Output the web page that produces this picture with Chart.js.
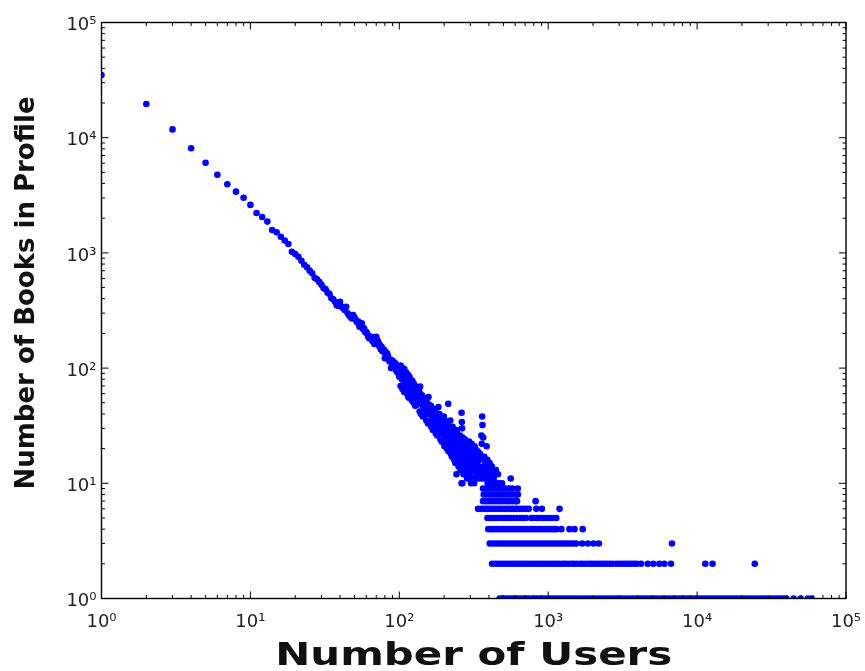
<!DOCTYPE html>
<html>
<head>
<meta charset="utf-8">
<script src="https://cdn.jsdelivr.net/npm/chart.js@4"></script>
<style>
  html, body { margin: 0; padding: 0; background: #fff; }
</style>
</head>
<body>
<canvas id="books_chart" width="865" height="671"></canvas>
<script>
const xTitle = 'Number of Users';
const yTitle = 'Number of Books in Profile';
const tickLabels = ['10\u2070', '10\u00b9', '10\u00b2', '10\u00b3', '10\u2074', '10\u2075'];

// main curve, one point per user count
const usersMain = [
  1, 2, 3, 4, 5, 6, 7, 8, 9, 10,
  11, 12, 13, 14, 15, 16, 17, 18, 19, 20,
  21, 22, 23, 24, 25, 26, 27, 28, 29, 30,
  31, 32, 33, 34, 35, 36, 37, 38, 39, 40,
  41, 42, 43, 44, 45, 46, 47, 48, 49, 50,
  51, 52, 53, 54, 55, 56, 57, 58, 59, 60,
  61, 62, 63, 64, 65, 66, 67, 68, 69, 70,
  71, 72, 73, 74, 75, 76, 77, 78, 79, 80,
  81, 82, 83, 84, 85, 86, 87, 88, 89, 90,
  91, 92, 93, 94, 95, 96, 97, 98, 99, 100
];
const booksMain = [
  35000, 19600, 11800, 8090, 6070, 4770, 3940, 3400, 3010, 2610,
  2220, 2050, 1870, 1580, 1510, 1380, 1280, 1195, 1024, 977,
  926, 855, 790, 750, 701, 665, 609, 590, 560, 530,
  495, 483, 452, 440, 403, 395, 377, 352, 346, 376,
  341, 330, 319, 341, 299, 288, 279, 270, 289, 275,
  262, 250, 253, 229, 236, 245, 218, 222, 205, 207,
  198, 186, 181, 184, 187, 172, 170, 162, 165, 187,
  175, 170, 156, 159, 146, 153, 140, 139, 144, 122,
  138, 130, 134, 126, 118, 114, 118, 100, 117, 105,
  114, 108, 102, 110, 96, 100, 92, 96, 90, 84
];

// noisy tail above ten books
const usersCloud = [
  101, 103, 104, 106, 107, 109, 110, 112, 113, 115,
  116, 118, 120, 121, 123, 124, 126, 127, 129, 131,
  133, 135, 136, 138, 139, 141, 143, 145, 147, 149,
  151, 153, 155, 157, 159, 161, 163, 165, 167, 169,
  171, 173, 175, 177, 179, 181, 183, 185, 187, 188,
  190, 192, 194, 196, 198, 200, 202, 204, 206, 208,
  210, 213, 215, 217, 219, 221, 223, 225, 227, 229,
  231, 233, 235, 237, 239, 241, 243, 245, 247, 249,
  251, 253, 255, 257, 259, 262, 263, 264, 265, 267,
  269, 271, 273, 275, 277, 279, 281, 283, 285, 287,
  289, 291, 293, 295, 297, 299, 302, 305, 308, 311,
  314, 317, 320, 323, 326, 329, 332, 335, 338, 341,
  344, 347, 350, 354, 356, 358, 360, 362, 365, 368,
  371, 374, 380, 384, 388, 392, 396, 400, 405, 410,
  415, 420, 430, 440, 450, 470, 490, 560
];
const booksCloud = [
  93, 88, 80, 93, 78, 76, 82, 72, 75, 56,
  70, 79, 66, 67, 62, 74, 64, 56, 60, 67,
  58, 52, 62, 69, 53, 55, 50, 46, 52, 44,
  48, 41, 45, 56, 40, 43, 47, 38, 42, 36,
  44, 39, 34, 41, 37, 32, 46, 35, 30, 38,
  33, 29, 36, 31, 27, 34, 30, 26, 33, 28,
  24, 49, 31, 27, 23, 29, 25, 21, 28, 24,
  20, 26, 22, 19, 25, 21, 27, 18, 23, 20,
  17, 24, 19, 22, 16, 41, 34, 30, 10, 21,
  18, 15, 23, 20, 17, 14, 19, 16, 22, 13,
  18, 15, 20, 12, 17, 14, 19, 16, 13, 18,
  11, 15, 21, 14, 12, 17, 13, 15, 11, 14,
  12, 16, 13, 11, 26, 22, 38, 32, 12, 14,
  11, 13, 12, 11, 13, 10, 12, 11, 10, 12,
  11, 10, 11, 10, 10, 10, 10, 11
];

// upper and lower edges of the tail
const usersCloudHigh = [
  102, 105, 108, 111, 114, 117, 122, 125, 128, 132,
  137, 142, 146, 150, 154, 158, 162, 166, 170, 174,
  178, 182, 186, 191, 195, 199, 203, 207, 211, 216,
  220, 224, 228, 232, 236, 240, 244, 248, 252, 256,
  260, 266, 270, 276, 282, 288, 294, 300, 306, 312,
  318, 324, 330, 336, 342, 348, 352, 366, 372, 378,
  386, 390, 398, 404, 412, 418, 425, 435, 445, 460
];
const booksCloudHigh = [
  105, 100, 98, 92, 88, 84, 78, 73, 70, 65,
  60, 58, 55, 54, 50, 48, 46, 44, 43, 42,
  40, 39, 40, 37, 34, 38, 35, 32, 34, 30,
  35, 29, 31, 27, 28, 26, 29, 25, 24, 26,
  23, 25, 22, 24, 22, 21, 23, 20, 22, 19,
  18, 20, 17, 19, 16, 18, 17, 25, 17, 15,
  21, 16, 14, 15, 13, 14, 13, 12, 13, 12
];
const usersCloudLow = [
  102, 105, 108, 111, 114, 117, 119, 122, 125, 128,
  132, 137, 140, 144, 148, 152, 156, 160, 164, 168,
  172, 176, 180, 184, 189, 193, 197, 201, 205, 209,
  214, 218, 222, 226, 230, 234, 238, 242, 246, 250,
  254, 258, 262, 266, 270, 275, 280, 285, 290, 296,
  303, 310, 318
];
const booksCloudLow = [
  70, 66, 62, 64, 58, 55, 60, 52, 50, 47,
  48, 42, 40, 38, 39, 35, 33, 34, 31, 29,
  30, 27, 26, 27, 24, 23, 24, 21, 22, 20,
  19, 21, 18, 17, 18, 16, 15, 12, 16, 14,
  15, 13, 10, 14, 12, 13, 12, 11, 12, 11,
  10, 11, 10
];

// rows of small integer book counts
const usersAt1 = [472, 490, 510, 530, 555, 580, 605, 630, 660, 690, 720, 750, 790, 830, 870, 910, 950, 1000,
  1050, 1100, 1150, 1210, 1270, 1330, 1400, 1470, 1540, 1620, 1700, 1780, 1870, 1960, 2060, 2160, 2270,
  2380, 2500, 2620, 2750, 2890, 3030, 3180, 3340, 3500, 3680, 3860, 4050, 4250, 4460, 4680, 4910, 5150,
  5400, 5670, 5950, 6250, 6560, 6890, 7230, 7590, 7970, 8370, 8790, 9230, 9690, 10200, 10700, 11200,
  11800, 12400, 13000, 13600, 14300, 15000, 15800, 16600, 17400, 18300, 19200, 20200, 21200, 22300,
  23400, 24600, 25800, 27100, 28400, 29800, 31300, 32900, 34500, 36200, 38000, 39700, 44500, 49600,
  55400, 58700];
const usersAt2 = [420, 440, 460, 482, 505, 528, 553, 578, 605, 633, 662, 693, 725, 758, 793, 830, 868, 908,
  950, 994, 1040, 1090, 1140, 1190, 1250, 1300, 1360, 1430, 1490, 1560, 1640, 1710, 1790, 1880, 1960, 2050,
  2150, 2250, 2350, 2460, 2580, 2700, 2860, 2990, 3130, 3280, 3430, 3590, 3760, 3930, 4200, 4660, 5080,
  5580, 6030, 6680, 11350, 12700, 24400];
const usersAt3 = [405, 424, 444, 465, 487, 510, 534, 559, 585, 613, 642, 672, 703, 736, 771, 807, 845, 885,
  927, 970, 1016, 1064, 1114, 1166, 1221, 1278, 1338, 1401, 1467, 1540, 1690, 1845, 2015, 2188, 6780];
const usersAt4 = [396, 415, 434, 455, 476, 499, 522, 547, 572, 599, 628, 657, 688, 720, 754, 790, 827, 866,
  907, 950, 995, 1040, 1090, 1133, 1224, 1390, 1503, 1706];
const usersAt5 = [391, 409, 428, 448, 469, 491, 514, 538, 563, 590, 617, 646, 676, 708, 769, 805, 843, 882,
  923, 966, 1011, 1058, 1133];
const usersAt6 = [338, 354, 371, 388, 406, 425, 445, 466, 488, 511, 535, 560, 586, 613, 642, 672, 704, 740,
  832, 907, 1192];
const usersAt7 = [365, 382, 400, 419, 438, 459, 480, 503, 527, 551, 577, 604, 617, 823];
const usersAt8 = [369, 386, 404, 423, 443, 464, 486, 509, 533, 558, 584, 611, 626];
const usersAt9 = [365, 385, 400, 420, 445, 465, 490, 515, 545, 575, 625];
const rowBooks = [1, 2, 3, 4, 5, 6, 7, 8, 9];
const rowUsers = [usersAt1, usersAt2, usersAt3, usersAt4, usersAt5, usersAt6, usersAt7, usersAt8, usersAt9];

const points = [];
usersMain.forEach((u, i) => points.push({x: u, y: booksMain[i]}));
usersCloud.forEach((u, i) => points.push({x: u, y: booksCloud[i]}));
usersCloudHigh.forEach((u, i) => points.push({x: u, y: booksCloudHigh[i]}));
usersCloudLow.forEach((u, i) => points.push({x: u, y: booksCloudLow[i]}));
rowUsers.forEach((list, r) => list.forEach(u => points.push({x: u, y: rowBooks[r]})));

function isDecade(v) {
  const e = Math.log10(v);
  return Math.abs(e - Math.round(e)) < 1e-9;
}
function isWholeMantissa(v) {
  const m = v / Math.pow(10, Math.floor(Math.log10(v) + 1e-9));
  return Math.abs(m - Math.round(m)) < 1e-9;
}

// ticks inside the box on all four sides, the frame, and the axis titles
const frame = {
  id: 'frame',
  afterDatasetsDraw(chart) {
    const {ctx, chartArea: a, scales: {x, y}} = chart;
    ctx.save();
    ctx.strokeStyle = '#000';
    ctx.lineWidth = 1;
    ctx.beginPath();
    x.ticks.forEach(t => {
      if (!isWholeMantissa(t.value)) return;
      const px = x.getPixelForValue(t.value);
      const len = isDecade(t.value) ? 7 : 3.5;
      ctx.moveTo(px, a.bottom); ctx.lineTo(px, a.bottom - len);
      ctx.moveTo(px, a.top); ctx.lineTo(px, a.top + len);
    });
    y.ticks.forEach(t => {
      if (!isWholeMantissa(t.value)) return;
      const py = y.getPixelForValue(t.value);
      const len = isDecade(t.value) ? 7 : 3.5;
      ctx.moveTo(a.left, py); ctx.lineTo(a.left + len, py);
      ctx.moveTo(a.right, py); ctx.lineTo(a.right - len, py);
    });
    ctx.stroke();
    ctx.lineWidth = 1.4;
    ctx.strokeRect(a.left, a.top, a.right - a.left, a.bottom - a.top);

    ctx.fillStyle = '#111';
    ctx.textAlign = 'center';
    ctx.textBaseline = 'alphabetic';
    ctx.font = 'bold 32px "DejaVu Sans"';
    ctx.save();
    ctx.translate((a.left + a.right) / 2, chart.height - 6);
    ctx.scale(1.31, 1);
    ctx.fillText(xTitle, 0, 0);
    ctx.restore();

    ctx.font = 'bold 26px "DejaVu Sans"';
    ctx.save();
    ctx.translate(34, (a.top + a.bottom) / 2 - 17.5);
    ctx.rotate(-Math.PI / 2);
    ctx.fillText(yTitle, 0, 0);
    ctx.restore();
    ctx.restore();
  }
};

const tickFont = {family: 'DejaVu Sans', size: 18};

const ctx = document.getElementById('books_chart').getContext('2d');
const chart = new Chart(ctx, {
  type: 'scatter',
  data: {
    datasets: [{
      data: points,
      backgroundColor: '#0000ff',
      borderWidth: 0,
      pointRadius: 3.3,
      pointHoverRadius: 3.3,
      clip: 0
    }]
  },
  options: {
    responsive: false,
    devicePixelRatio: 1,
    animation: false,
    events: [],
    layout: { padding: {top: 22.5, right: 19, left: 0, bottom: 0} },
    plugins: { legend: {display: false}, tooltip: {enabled: false} },
    scales: {
      x: {
        type: 'logarithmic',
        min: 1,
        max: 100000,
        grid: {display: false, drawTicks: false},
        border: {display: false},
        afterFit: s => { s.height = 72.5; s.paddingRight = 0; s.paddingLeft = 0; },
        ticks: {
          autoSkip: false,
          maxRotation: 0,
          padding: 13,
          color: '#222',
          font: tickFont,
          callback: v => isDecade(v) ? tickLabels[Math.round(Math.log10(v))] : ''
        }
      },
      y: {
        type: 'logarithmic',
        min: 1,
        max: 100000,
        grid: {display: false, drawTicks: false},
        border: {display: false},
        afterFit: s => { s.width = 101.5; s.paddingTop = 0; s.paddingBottom = 0; },
        ticks: {
          autoSkip: false,
          padding: 5,
          labelOffset: 3,
          color: '#222',
          font: tickFont,
          callback: v => isDecade(v) ? tickLabels[Math.round(Math.log10(v))] : ''
        }
      }
    }
  },
  plugins: [frame]
});
</script>
</body>
</html>
